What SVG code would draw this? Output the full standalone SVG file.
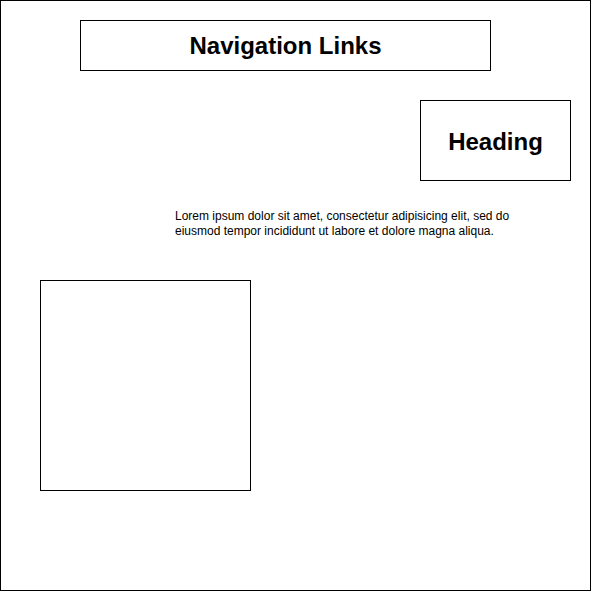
<svg xmlns="http://www.w3.org/2000/svg" width="591" height="591" viewBox="0 0 591 591">
<style>
.box{fill:#ffffff;stroke:#000000;stroke-width:1}
.title{font-family:"Liberation Sans",Arial,sans-serif;font-weight:bold;font-size:24px;fill:#000;text-anchor:middle}
.body{font-family:"Liberation Sans",Arial,sans-serif;font-size:12px;fill:#000}
</style>
<rect x="0" y="0" width="591" height="591" fill="#ffffff"/>
<g id="page"><rect class="box" x="0.5" y="0.5" width="590" height="590"/></g>
<g id="nav"><rect class="box" x="80.5" y="20.5" width="410" height="50"/><text class="title" x="285.5" y="54">Navigation Links</text></g>
<g id="heading"><rect class="box" x="420.5" y="100.5" width="150" height="80"/><text class="title" x="495.5" y="149.5">Heading</text></g>
<g id="paragraph"><text class="body" x="175" y="220">Lorem ipsum dolor sit amet, consectetur adipisicing elit, sed do</text><text class="body" x="175" y="235">eiusmod tempor incididunt ut labore et dolore magna aliqua.</text></g>
<g id="image"><rect class="box" x="40.5" y="280.5" width="210" height="210"/></g>
<g id="connectors"/>
</svg>
